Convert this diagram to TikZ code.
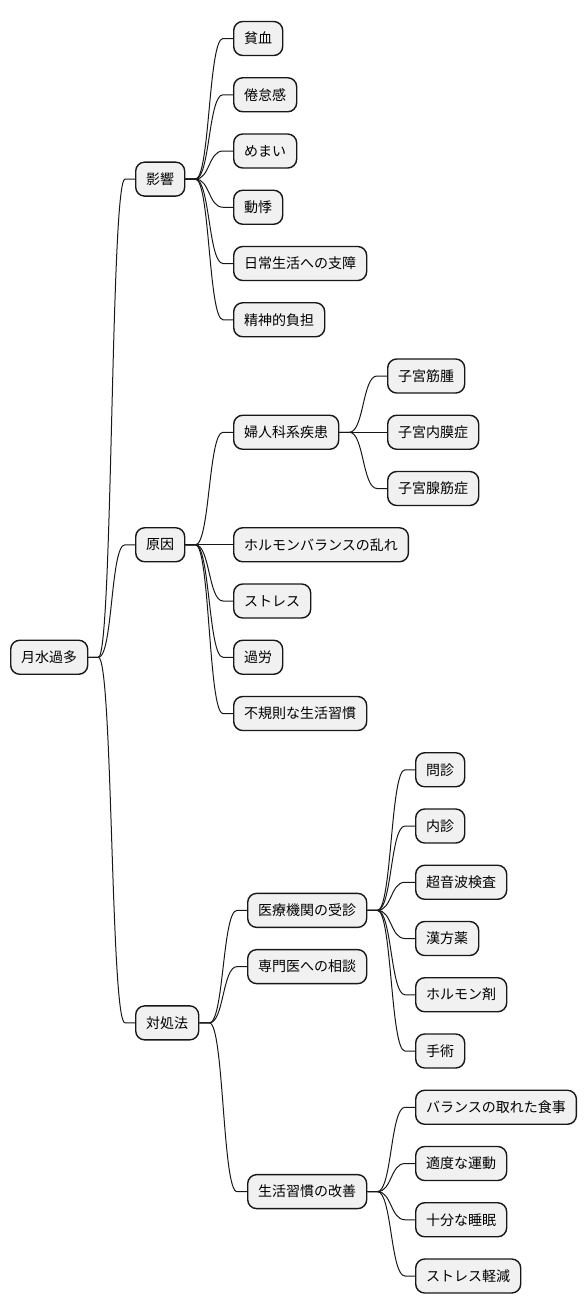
\documentclass[tikz,border=0pt]{standalone}
\usepackage{fontspec}
\usetikzlibrary{positioning}
\usetikzlibrary{calc}
\newfontfamily\jpfont{Noto Sans CJK JP}
\definecolor{boxfill}{HTML}{F1F1F1}
\definecolor{linecol}{HTML}{181818}
\newcommand{\branchto}[2]{%
  \draw[branch] (#1.east) -- ++(10,0) coordinate (p)
    .. controls ($(p)+(14.5,0)$) and ($(#2.west)+(-24.5,0)$) .. ($(#2.west)+(-10,0)$) -- (#2.west);}

\begin{document}
\begin{tikzpicture}[x=1pt, y=-1pt,
    topic/.style={draw=linecol, fill=boxfill, line width=1.4pt, rounded corners=9pt,
      minimum height=34pt, inner xsep=10.5pt, inner ysep=0pt, anchor=west,
      font=\jpfont\fontsize{14pt}{16pt}\selectfont},
    branch/.style={draw=linecol, line width=1pt}]
    \useasboundingbox (0,0) rectangle (586,1315);
    % root and first level
    \node[topic] (root) at (10, 657.25) {月水過多};
    \node[topic] (effect) at (135, 179.125) {影響};
    \node[topic] (cause) at (135, 544.75) {原因};
    \node[topic] (remedy) at (135, 1022.875) {対処法};
    % effects
    \node[topic] (anemia) at (233, 38.5) {貧血};
    \node[topic] (fatigue) at (233, 94.75) {倦怠感};
    \node[topic] (dizzy) at (233, 151) {めまい};
    \node[topic] (palpit) at (233, 207.25) {動悸};
    \node[topic] (daily) at (233, 263.5) {日常生活への支障};
    \node[topic] (mental) at (233, 319.75) {精神的負担};
    % causes
    \node[topic] (gyneco) at (233, 432.25) {婦人科系疾患};
    \node[topic] (myoma) at (387, 376) {子宮筋腫};
    \node[topic] (endomet) at (387, 432.25) {子宮内膜症};
    \node[topic] (adeno) at (387, 488.5) {子宮腺筋症};
    \node[topic] (hormone) at (233, 544.75) {ホルモンバランスの乱れ};
    \node[topic] (stress) at (233, 601) {ストレス};
    \node[topic] (overwork) at (233, 657.25) {過労};
    \node[topic] (irregular) at (233, 713.5) {不規則な生活習慣};
    % remedies
    \node[topic] (clinic) at (247, 910.375) {医療機関の受診};
    \node[topic] (consult) at (247, 966.625) {専門医への相談};
    \node[topic] (habits) at (247, 1191.625) {生活習慣の改善};
    \node[topic] (interview) at (415, 769.75) {問診};
    \node[topic] (exam) at (415, 826) {内診};
    \node[topic] (echo) at (415, 882.25) {超音波検査};
    \node[topic] (kampo) at (415, 938.5) {漢方薬};
    \node[topic] (hormdrug) at (415, 994.75) {ホルモン剤};
    \node[topic] (surgery) at (415, 1051) {手術};
    \node[topic] (meal) at (415, 1107.25) {バランスの取れた食事};
    \node[topic] (exercise) at (415, 1163.5) {適度な運動};
    \node[topic] (sleep) at (415, 1219.75) {十分な睡眠};
    \node[topic] (relax) at (415, 1276) {ストレス軽減};
    % connectors
    \foreach \a/\b in {root/effect, root/cause, root/remedy,
        effect/anemia, effect/fatigue, effect/dizzy, effect/palpit, effect/daily, effect/mental,
        cause/gyneco, cause/hormone, cause/stress, cause/overwork, cause/irregular,
        gyneco/myoma, gyneco/endomet, gyneco/adeno,
        remedy/clinic, remedy/consult, remedy/habits,
        clinic/interview, clinic/exam, clinic/echo, clinic/kampo, clinic/hormdrug, clinic/surgery,
        habits/meal, habits/exercise, habits/sleep, habits/relax}
        {\branchto{\a}{\b}}
\end{tikzpicture}
\end{document}
